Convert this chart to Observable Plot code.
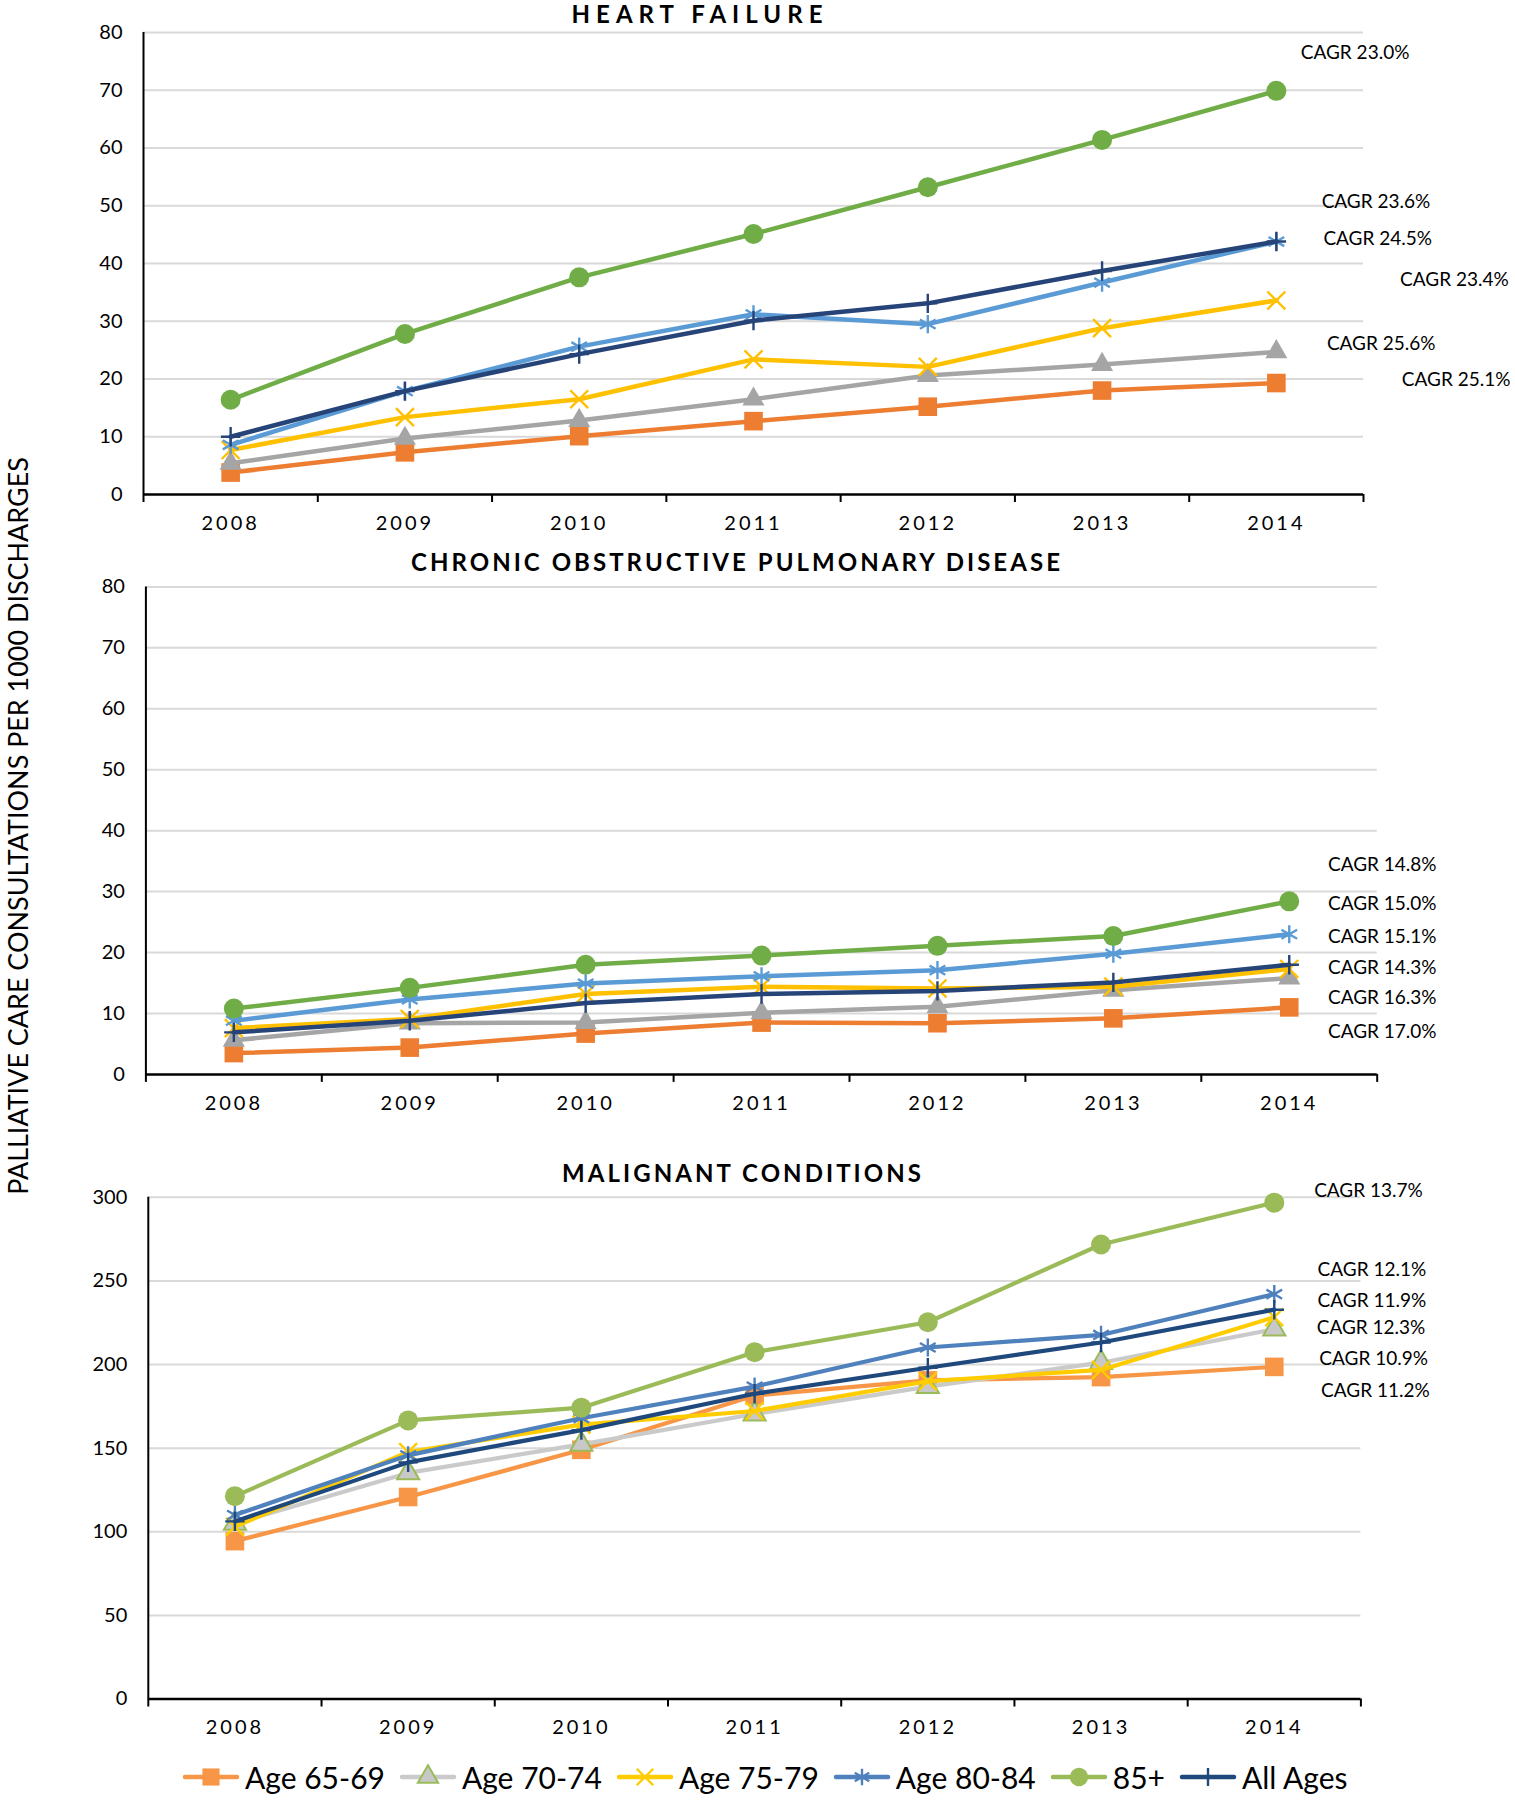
<!DOCTYPE html>
<html>
<head>
<meta charset="utf-8">
<script src="https://cdn.jsdelivr.net/npm/d3@7"></script>
<script src="https://cdn.jsdelivr.net/npm/@observablehq/plot@0.6"></script>
<style>
  body { margin: 0; background: #fff; font-family: Lato, "Liberation Sans", sans-serif; }
  #root { position: relative; width: 1515px; height: 1800px; overflow: hidden; background: #fff; }
  .panel { position: absolute; left: 0; }
  .title { position: absolute; font-weight: 700; font-size: 24px; white-space: nowrap; transform: translate(-50%, -50%); color: #000; }
  #ylabel { position: absolute; font-size: 27px; white-space: nowrap; transform: translate(-50%, -50%) rotate(-90deg); color: #000; }
  #legend { position: absolute; left: 182px; top: 1757px; display: flex; align-items: center; font-size: 30px; color: #000; white-space: nowrap; }
  #legend .item { display: flex; align-items: center; margin-right: 14px; }
  #legend svg { margin-right: 5px; }
  svg [aria-label="x-axis tick label"] text { letter-spacing: 3px; }
</style>
</head>
<body>
<div id="root"></div>
<script>
// ---------------- data ----------------
const years = [2008, 2009, 2010, 2011, 2012, 2013, 2014];
const seriesNames = ["Age 65-69", "Age 70-74", "Age 75-79", "Age 80-84", "85+", "All Ages"];

// Heart failure
const hf65  = [3.8, 7.3, 10.1, 12.7, 15.2, 18.0, 19.3];
const hf70  = [5.4, 9.7, 12.8, 16.5, 20.6, 22.5, 24.7];
const hf75  = [7.7, 13.4, 16.5, 23.4, 22.1, 28.8, 33.6];
const hf80  = [8.6, 17.9, 25.6, 31.2, 29.5, 36.7, 43.8];
const hf85  = [16.4, 27.8, 37.6, 45.1, 53.2, 61.4, 69.9];
const hfAll = [10.0, 17.9, 24.3, 30.1, 33.1, 38.7, 43.8];
const hfCagr  = ["CAGR 23.0%", "CAGR 23.6%", "CAGR 24.5%", "CAGR 23.4%", "CAGR 25.6%", "CAGR 25.1%"];
const hfCagrX = [2014.14, 2014.26, 2014.27, 2014.71, 2014.29, 2014.72];
const hfCagrY = [76.5, 50.6, 44.2, 37.2, 26.1, 19.9];

// COPD
const copd65  = [3.5, 4.4, 6.7, 8.5, 8.4, 9.2, 11.0];
const copd70  = [5.6, 8.4, 8.5, 10.1, 11.1, 13.8, 15.8];
const copd75  = [7.6, 9.1, 13.2, 14.4, 14.1, 14.4, 17.3];
const copd80  = [8.8, 12.3, 14.9, 16.1, 17.1, 19.8, 23.0];
const copd85  = [10.8, 14.2, 18.0, 19.5, 21.1, 22.7, 28.4];
const copdAll = [6.9, 8.8, 11.7, 13.2, 13.7, 15.1, 18.0];
const copdCagr  = ["CAGR 14.8%", "CAGR 15.0%", "CAGR 15.1%", "CAGR 14.3%", "CAGR 16.3%", "CAGR 17.0%"];
const copdCagrX = [2014.22, 2014.22, 2014.22, 2014.22, 2014.22, 2014.22];
const copdCagrY = [34.3, 27.9, 22.5, 17.4, 12.5, 7.0];

// Malignant conditions
const mal65  = [94.4, 120.8, 149.0, 181.5, 190.5, 192.5, 198.6];
const mal70  = [105.0, 135.2, 152.3, 170.4, 186.8, 201.1, 221.2];
const mal75  = [103.0, 147.7, 164.1, 172.2, 190.0, 196.8, 228.3];
const mal80  = [110.0, 145.7, 167.9, 186.8, 210.2, 217.7, 242.1];
const mal85  = [121.3, 166.6, 174.2, 207.4, 225.3, 271.8, 296.8];
const malAll = [106.2, 141.5, 160.8, 182.5, 198.1, 213.2, 232.8];
const malCagr  = ["CAGR 13.7%", "CAGR 12.1%", "CAGR 11.9%", "CAGR 12.3%", "CAGR 10.9%", "CAGR 11.2%"];
const malCagrX = [2014.23, 2014.25, 2014.25, 2014.245, 2014.26, 2014.27];
const malCagrY = [303.8, 256.8, 238.3, 222.2, 203.6, 184.5];

const ticks80  = [0, 10, 20, 30, 40, 50, 60, 70, 80];
const ticks300 = [0, 50, 100, 150, 200, 250, 300];
const titles = ["HEART FAILURE", "CHRONIC OBSTRUCTIVE PULMONARY DISEASE", "MALIGNANT CONDITIONS"];
const yLabel = "PALLIATIVE CARE CONSULTATIONS PER 1000 DISCHARGES";

// ---------------- styles ----------------
const styleA = [
  {line: "#ED7D31", symbol: "square",   r: 10.5, fill: "#ED7D31", stroke: "none", sw: 0},
  {line: "#A5A5A5", symbol: "triangle", r: 8.2,  fill: "#A5A5A5", stroke: "none", sw: 0},
  {line: "#FFC000", symbol: "times",    r: 8.2,  fill: "none",    stroke: "#FFC000", sw: 2.4},
  {line: "#5B9BD5", symbol: "asterisk", r: 8.6,  fill: "none",    stroke: "#5B9BD5", sw: 2.4},
  {line: "#70AD47", symbol: "circle",   r: 10,   fill: "#70AD47", stroke: "none", sw: 0},
  {line: "#264478", symbol: "plus",     r: 6.3,  fill: "none",    stroke: "#264478", sw: 2.4}
];
const styleB = [
  {line: "#F79646", symbol: "square",   r: 10.5, fill: "#F79646", stroke: "none", sw: 0},
  {line: "#CACACA", symbol: "triangle", r: 8.2,  fill: "#C8C8C8", stroke: "#9BBB59", sw: 2},
  {line: "#FFCC00", symbol: "times",    r: 8.2,  fill: "none",    stroke: "#FFCC00", sw: 2.4},
  {line: "#4F81BD", symbol: "asterisk", r: 8.6,  fill: "none",    stroke: "#4F81BD", sw: 2.4},
  {line: "#9BBB59", symbol: "circle",   r: 10,   fill: "#9BBB59", stroke: "none", sw: 0},
  {line: "#1F497D", symbol: "plus",     r: 6.3,  fill: "none",    stroke: "#1F497D", sw: 2.4}
];

const panels = [
  {values: [hf65, hf70, hf75, hf80, hf85, hfAll], cagr: hfCagr, cx: hfCagrX, cy: hfCagrY,
   yMax: 80, ticks: ticks80, styles: styleA, top: 0, height: 540,
   mt: 32, mb: 46, ml: 143, mr: 152, lw: 4.5, titleX: 700, titleY: 13, titleW: 257},
  {values: [copd65, copd70, copd75, copd80, copd85, copdAll], cagr: copdCagr, cx: copdCagrX, cy: copdCagrY,
   yMax: 80, ticks: ticks80, styles: styleA, top: 540, height: 590,
   mt: 46.4, mb: 56.1, ml: 145.4, mr: 138.3, lw: 4.5, titleX: 737, titleY: 561, titleW: 652},
  {values: [mal65, mal70, mal75, mal80, mal85, malAll], cagr: malCagr, cx: malCagrX, cy: malCagrY,
   yMax: 300, ticks: ticks300, styles: styleB, top: 1130, height: 640,
   mt: 66.8, mb: 71.5, ml: 147.8, mr: 154.6, lw: 4.2, titleX: 743, titleY: 1172, titleW: 362}
];

const bounds = d3.range(years.length + 1).map(i => years[0] - 0.5 + i);
const root = document.getElementById("root");

panels.forEach((p, pi) => {
  const data = years.flatMap((yr, i) => seriesNames.map((s, j) => ({year: yr, series: s, value: p.values[j][i]})));
  const labels = p.cagr.map((t, i) => ({text: t, x: p.cx[i], y: p.cy[i]}));
  const seriesMarks = seriesNames.flatMap((s, j) => {
    const st = p.styles[j];
    const d = data.filter(r => r.series === s);
    return [
      Plot.line(d, {x: "year", y: "value", stroke: st.line, strokeWidth: p.lw, strokeLinejoin: "round", strokeLinecap: "round"}),
      Plot.dot(d, {x: "year", y: "value", symbol: st.symbol, r: st.r, fill: st.fill, stroke: st.stroke, strokeWidth: st.sw})
    ];
  });
  const chart = Plot.plot({
    width: 1515, height: p.height,
    marginTop: p.mt, marginBottom: p.mb, marginLeft: p.ml, marginRight: p.mr,
    x: {type: "linear", domain: [years[0] - 0.5, years[years.length - 1] + 0.5]},
    y: {type: "linear", domain: [0, p.yMax]},
    style: {fontFamily: "Lato, 'Liberation Sans', sans-serif", fontSize: "20px", color: "#000", background: "transparent", overflow: "visible"},
    marks: [
      Plot.gridY(p.ticks.filter(t => t > 0), {stroke: "#D9D9D9", strokeOpacity: 1, strokeWidth: 2}),
      Plot.text(labels, {x: "x", y: "y", text: "text", textAnchor: "start", lineAnchor: "middle", fontSize: 19, fill: "#000"}),
      Plot.axisY(p.ticks, {tickSize: 0, tickPadding: 21, fontSize: 20}),
      Plot.axisX(bounds, {tickSize: 8, tickFormat: () => "", stroke: "#000", strokeWidth: 2}),
      Plot.axisX(years, {tickSize: 0, tickPadding: 21, fontSize: 20, tickFormat: d => String(d)}),
      Plot.ruleX([years[0] - 0.5], {stroke: "#000", strokeWidth: 2}),
      Plot.ruleY([0], {stroke: "#000", strokeWidth: 2.5}),
      ...seriesMarks
    ]
  });
  chart.classList.add("panel");
  chart.style.top = p.top + "px";
  root.appendChild(chart);

  // white label boxes behind CAGR labels (as in the original data labels)
  chart.querySelectorAll('g[aria-label="text"] text').forEach(t => {
    const b = t.getBBox();
    const rect = document.createElementNS("http://www.w3.org/2000/svg", "rect");
    rect.setAttribute("x", b.x - 22);
    rect.setAttribute("y", b.y + b.height / 2 - 22);
    rect.setAttribute("width", b.width + 30);
    rect.setAttribute("height", 44);
    rect.setAttribute("fill", "#fff");
    t.parentNode.insertBefore(rect, t);
  });

  // panel title
  const title = document.createElement("div");
  title.className = "title";
  title.textContent = titles[pi];
  title.style.left = p.titleX + "px";
  title.style.top = p.titleY + "px";
  root.appendChild(title);
  const w0 = title.getBoundingClientRect().width;
  const n = titles[pi].length;
  title.style.letterSpacing = Math.max(0, (p.titleW - w0) / n) + "px";
});

// y-axis label
const yl = document.createElement("div");
yl.id = "ylabel";
yl.textContent = yLabel;
yl.style.left = "17px";
yl.style.top = "826px";
root.appendChild(yl);
const yh = yl.getBoundingClientRect().height;
yl.style.fontSize = (27 * 738 / yh) + "px";

// legend
const legend = document.createElement("div");
legend.id = "legend";
seriesNames.forEach((s, j) => {
  const st = styleB[j];
  const item = document.createElement("div");
  item.className = "item";
  const svg = d3.create("svg").attr("width", 58).attr("height", 40);
  svg.append("line").attr("x1", 3).attr("x2", 55).attr("y1", 20).attr("y2", 20)
    .attr("stroke", st.line).attr("stroke-width", 4.5).attr("stroke-linecap", "round");
  const symMap = {square: d3.symbolSquare, triangle: d3.symbolTriangle, times: d3.symbolTimes,
                  asterisk: d3.symbolAsterisk, circle: d3.symbolCircle, plus: d3.symbolPlus};
  const rr = st.r * 0.92;
  svg.append("path").attr("transform", "translate(29,20)")
    .attr("d", d3.symbol(symMap[st.symbol], Math.PI * rr * rr)())
    .attr("fill", st.fill).attr("stroke", st.stroke).attr("stroke-width", st.sw);
  item.appendChild(svg.node());
  const span = document.createElement("span");
  span.textContent = s;
  item.appendChild(span);
  legend.appendChild(item);
});
root.appendChild(legend);
</script>
</body>
</html>
